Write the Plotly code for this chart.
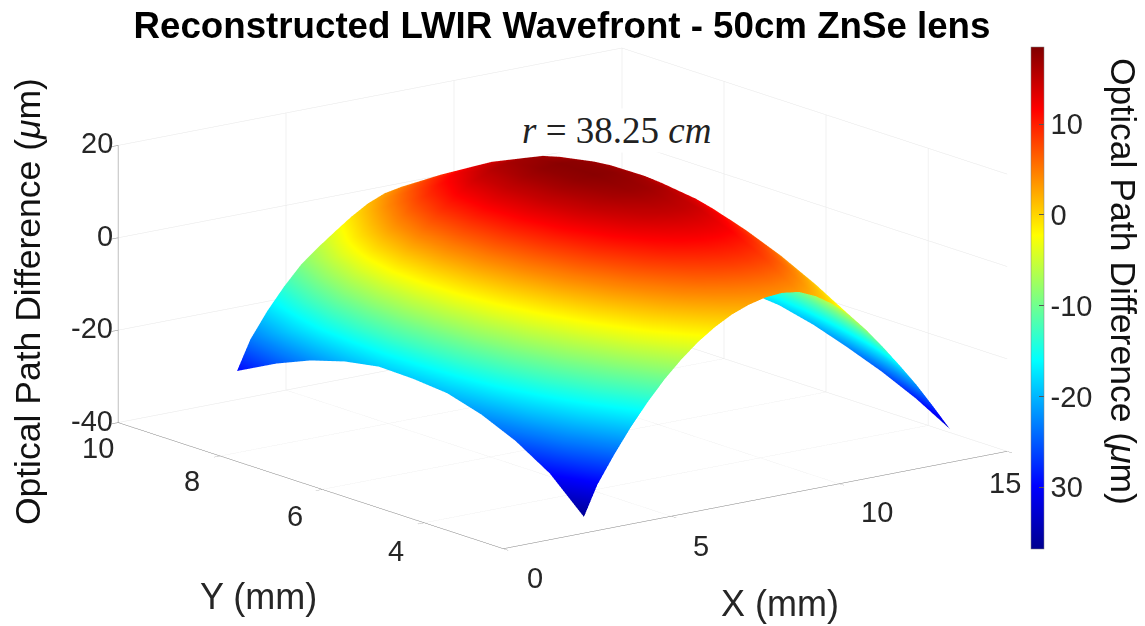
import plotly.graph_objects as go

x_mm = [2.4, 2.8, 3.3, 3.8, 4.3, 4.8, 5.3, 5.8, 6.3, 6.8, 7.3, 7.8, 8.3, 8.8, 9.3, 9.8, 10.3, 10.8, 11.3, 11.8, 12.3, 12.8, 13.3]
y_mm = [2.45, 3.12, 3.79, 4.46, 5.13, 5.8, 6.47, 7.14, 7.81, 8.48, 9.25]
opd_um = [
    [-36.5, -30.1, -24.3, -19.0, -14.3, -10.1, -6.5, -3.4, -0.9, 1.1, 2.5, 3.4, 3.7, 3.2, 1.6, -0.8, -3.9, -7.8, -12.2, -16.9, -21.8, -27.2, -32.8],
    [-29.5, -23.7, -18.2, -13.3, -9.1, -4.9, -1.3, 1.7, 4.2, 6.1, 7.4, 8.2, 8.4, 7.9, 6.1, 3.6, 0.4, -3.8, -8.4, -13.1, -18.0, -23.3, -28.6],
    [-24.9, -19.3, -13.7, -9.0, -4.8, -0.7, 2.8, 5.8, 8.2, 10.1, 11.3, 12.0, 12.1, 11.6, 9.7, 7.3, 4.1, -0.2, -4.8, -9.7, -14.7, -20.0, -25.2],
    [-21.6, -15.9, -10.4, -5.7, -1.5, 2.6, 6.1, 9.0, 11.3, 13.1, 14.3, 14.9, 14.9, 14.3, 12.6, 10.2, 7.1, 2.8, -1.7, -6.5, -11.5, -17.0, -22.4],
    [-19.4, -13.7, -8.1, -3.4, 0.9, 4.9, 8.3, 11.2, 13.5, 15.2, 16.3, 16.9, 16.8, 16.1, 14.5, 12.3, 9.5, 5.5, 1.3, -3.4, -8.6, -14.2, -19.9],
    [-18.7, -12.7, -7.1, -2.1, 2.3, 6.3, 9.7, 12.5, 14.7, 16.3, 17.4, 17.9, 17.7, 17.0, 15.5, 13.3, 10.6, 6.9, 2.8, -1.8, -6.8, -12.3, -18.1],
    [-18.5, -12.4, -6.8, -1.8, 2.7, 6.6, 10.0, 12.8, 14.9, 16.5, 17.5, 17.9, 17.7, 16.9, 15.4, 13.4, 10.7, 7.3, 3.3, -1.1, -6.1, -11.6, -17.4],
    [-19.8, -13.5, -7.8, -2.6, 1.9, 5.8, 9.1, 11.8, 14.0, 15.5, 16.4, 16.7, 16.4, 15.5, 14.1, 12.2, 9.7, 6.4, 2.6, -1.8, -6.7, -12.2, -18.2],
    [-22.0, -15.5, -9.9, -5.0, -0.7, 2.9, 6.0, 8.7, 10.8, 12.4, 13.2, 13.4, 13.0, 12.1, 10.7, 8.7, 6.4, 3.4, -0.1, -4.2, -9.0, -14.5, -20.3],
    [-25.1, -18.7, -13.2, -8.5, -4.4, -1.1, 1.7, 4.4, 6.5, 8.1, 8.9, 9.0, 8.6, 7.6, 6.1, 4.2, 2.1, -0.8, -4.1, -7.9, -12.6, -18.0, -23.6],
    [-29.5, -23.2, -17.8, -13.2, -9.2, -6.2, -3.5, -0.9, 1.3, 2.8, 3.5, 3.6, 3.0, 2.0, 0.5, -1.5, -3.5, -6.1, -9.2, -12.9, -17.5, -22.7, -28.2],
]
x_ticks = [0, 5, 10, 15]
y_ticks = [4, 6, 8, 10]
z_ticks = [-40, -20, 0, 20]
cbar_vals = [-30, -20, -10, 0, 10]
cbar_text = ["30", "-20", "-10", "0", "10"]
X_MIN, X_MAX, Y_MIN, Y_MAX, Z_MIN, Z_MAX = 0, 15, 2.45, 10, -40, 20

jet = [[0, "#00008f"], [0.125, "#0000ff"], [0.375, "#00ffff"], [0.625, "#ffff00"], [0.875, "#ff0000"], [1, "#800000"]]
FONT = "Liberation Sans"
TICK = dict(family=FONT, size=29, color="#262626")
AXT = dict(family=FONT, size=36, color="#262626")
ZT = dict(family=FONT, size=35.5, color="#111111")


def axis(rng, ticks):
    return dict(range=rng, tickvals=ticks, showticklabels=False, title=dict(text=""),
                showbackground=False, showgrid=True, gridcolor="#e6e6e6", gridwidth=1, zeroline=False,
                showline=True, linecolor="#808080", linewidth=1, ticks="outside", ticklen=8, tickcolor="#808080",
                showspikes=False, mirror=False)


def label(x, y, z, text, dx, dy, font=TICK, **kw):
    return dict(x=x, y=y, z=z, text=text, showarrow=False, xshift=dx, yshift=-dy, font=font,
                xanchor=kw.pop("xanchor", "center"), yanchor="middle", **kw)


labels = []
for v, (dx, dy) in zip(x_ticks, [(32, 29), (30, 30), (38, 28), (-2, 32)]):
    labels.append(label(v, Y_MIN, Z_MIN, str(v), dx, dy))
for v, (dx, dy) in zip(y_ticks, [(-28, 28), (-27, 27), (-28, 25), (-20, 25)]):
    labels.append(label(X_MIN, v, Z_MIN, str(v), dx, dy))
for v in z_ticks:
    labels.append(label(X_MIN, Y_MAX, v, str(v), -3, -2, xanchor="right"))
labels.append(label(7.5, Y_MIN, Z_MIN, "X (mm)", 25, 103, font=AXT))
labels.append(label(X_MIN, 6.2, Z_MIN, "Y (mm)", -54, 110, font=AXT))
labels.append(label(X_MIN, Y_MAX, -10, "Optical Path Difference (<i>μ</i>m)", -90, 18, font=ZT, textangle=-90))

fig = go.Figure(go.Surface(
    x=x_mm, y=y_mm, z=opd_um, colorscale=jet, cmin=-36.8, cmax=18.5,
    lighting=dict(ambient=1, diffuse=0, specular=0, roughness=1, fresnel=0),
    colorbar=dict(x=1031 / 1145, xanchor="left", xpad=0, y=1 - 298 / 626, yanchor="middle", ypad=0,
                  lenmode="pixels", len=502, thicknessmode="pixels", thickness=13, outlinewidth=0.5,
                  outlinecolor="#808080", tickvals=cbar_vals, ticktext=cbar_text, ticks="inside", ticklen=5,
                  tickcolor="#555555", tickfont=TICK),
))
fig.update_layout(
    width=1145, height=626, margin=dict(l=0, r=0, t=0, b=0, autoexpand=False), paper_bgcolor="white",
    showlegend=False,
    title=dict(text="<b>Reconstructed LWIR Wavefront - 50cm ZnSe lens</b>", x=562 / 1145, xanchor="center",
               y=1 - 25 / 626, yanchor="middle", font=dict(family=FONT, size=36.7, color="black")),
    scene=dict(
        domain=dict(x=[0, 1], y=[0, 1]),
        aspectmode="manual", aspectratio=dict(x=2.03, y=2.02, z=0.915),
        xaxis=axis([X_MIN, X_MAX], x_ticks),
        yaxis=axis([Y_MIN, Y_MAX], y_ticks),
        zaxis=axis([Z_MIN, Z_MAX], z_ticks),
        camera=dict(projection=dict(type="orthographic"), up=dict(x=0, y=0, z=1),
                    center=dict(x=0.0171, y=-0.0294, z=-0.045), eye=dict(x=-1.162, y=-1.564, z=0.458)),
        annotations=labels,
    ),
    annotations=[
        dict(text="<i>r</i> = 38.25 <i>cm</i>", xref="paper", yref="paper", x=617 / 1145, y=1 - 130 / 626,
             xanchor="center", yanchor="middle", showarrow=False, bgcolor="white",
             font=dict(family="Liberation Serif", size=37, color="#222222")),
        dict(text="Optical Path Difference (<i>μ</i>m)", xref="paper", yref="paper", x=1123 / 1145, y=1 - 281 / 626,
             xanchor="center", yanchor="middle", textangle=90, showarrow=False, font=ZT),
    ],
)
fig.write_html("out.html", post_script="document.body.style.margin='0';", config={"displayModeBar": False})
